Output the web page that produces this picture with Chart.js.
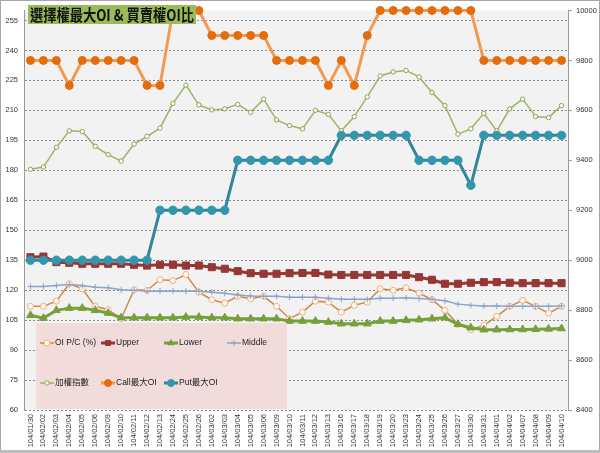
<!DOCTYPE html>
<html>
<head>
<meta charset="utf-8">
<script src="https://cdn.jsdelivr.net/npm/chart.js@4.4.1/dist/chart.umd.min.js"></script>
<style>
	html, body { margin: 0; padding: 0; background: #fff; }
	#khung { width: 600px; height: 453px; }
</style>
</head>
<body>
<div id="khung"><canvas id="bieuDo" width="600" height="453"></canvas></div>
<script>
var ngay = ['104/01/30', '104/02/02', '104/02/03', '104/02/04', '104/02/05', '104/02/06', '104/02/09', '104/02/10', '104/02/11', '104/02/12',
	'104/02/13', '104/02/24', '104/02/25', '104/02/26', '104/03/02', '104/03/03', '104/03/04', '104/03/05', '104/03/06', '104/03/09',
	'104/03/10', '104/03/11', '104/03/12', '104/03/13', '104/03/16', '104/03/17', '104/03/18', '104/03/19', '104/03/20', '104/03/23',
	'104/03/24', '104/03/25', '104/03/26', '104/03/27', '104/03/30', '104/03/31', '104/04/01', '104/04/02', '104/04/07', '104/04/08',
	'104/04/09', '104/04/10'];

// truc trai
var oiPC = [111.9, 111.9, 114.5, 123.2, 120.7, 111.9, 110.2, 105.7, 120.2, 119.9,
	125.2, 124.8, 127.8, 119, 115.2, 113.5, 116.9, 115.7, 116.9, 111.9,
	105.7, 109, 114.5, 114, 109, 112.4, 114, 120.7, 119.9, 121.2,
	118.5, 115.2, 109.9, 102.9, 100.2, 102.4, 106.9, 111.9, 114.9, 111.9,
	108.5, 111.9];
var upper = [136.5, 136.8, 134, 133.7, 133.2, 133.2, 133.2, 133.2, 132.7, 132.3,
	132.7, 132.7, 132.3, 132.3, 131.5, 130.7, 129.5, 128.5, 128.2, 128.2,
	128.5, 128.6, 128.6, 127.8, 127.6, 127.6, 127.6, 127.6, 127.6, 127.6,
	126.5, 125.2, 123.2, 123.2, 123.7, 124, 124, 123.7, 123.5, 123.5,
	123.5, 123.5];
var lower = [107.4, 106, 109.9, 111, 111, 109.9, 108.5, 106.2, 106.2, 106.2,
	106.2, 106.2, 106.5, 106.5, 106.2, 106.2, 105.7, 105.7, 105.7, 105.7,
	104.5, 104.5, 104.5, 104, 103.2, 103.2, 103.2, 104.5, 104.5, 104.9,
	105.2, 105.7, 106.2, 102.9, 101.2, 100.2, 100.2, 100.3, 100.3, 100.4,
	100.6, 100.8];
var middle = [121.8, 121.8, 122.3, 122.8, 122.3, 121.5, 121.2, 120.2, 119.9, 119.5,
	119.5, 119.5, 119.4, 119.4, 119, 118.4, 117.6, 117.1, 116.9, 116.9,
	116.5, 116.5, 116.5, 115.9, 115.4, 115.4, 115.4, 116, 116, 116.2,
	115.8, 115.4, 114.7, 113, 112.4, 112.1, 112.1, 112, 111.9, 111.9,
	112, 112.1];

// truc phai
var chiSo = [9364, 9373, 9452, 9518, 9515, 9456, 9423, 9397, 9465, 9496,
	9529, 9628, 9701, 9622, 9602, 9606, 9624, 9592, 9645, 9562,
	9539, 9526, 9600, 9584, 9518, 9575, 9654, 9738, 9754, 9760,
	9734, 9672, 9619, 9505, 9526, 9588, 9518, 9606, 9645, 9575,
	9571, 9619];
var callOI = [9800, 9800, 9800, 9700, 9800, 9800, 9800, 9800, 9800, 9700,
	9700, 10000, 10000, 10000, 9900, 9900, 9900, 9900, 9900, 9800,
	9800, 9800, 9800, 9700, 9800, 9700, 9900, 10000, 10000, 10000,
	10000, 10000, 10000, 10000, 10000, 9800, 9800, 9800, 9800, 9800,
	9800, 9800];
var putOI = [9000, 9000, 9000, 9000, 9000, 9000, 9000, 9000, 9000, 9000,
	9200, 9200, 9200, 9200, 9200, 9200, 9400, 9400, 9400, 9400,
	9400, 9400, 9400, 9400, 9500, 9500, 9500, 9500, 9500, 9500,
	9400, 9400, 9400, 9400, 9300, 9500, 9500, 9500, 9500, 9500,
	9500, 9500];

var tickTrai = [60, 75, 90, 105, 120, 135, 150, 165, 180, 195, 210, 225, 240, 255];
var tickPhai = [8400, 8600, 8800, 9000, 9200, 9400, 9600, 9800, 10000];
var tieuDe = '選擇權最大OI & 買賣權OI比';

var chuNho = { family: 'Liberation Sans', size: 7.5 };

function duLieu(nhan, data, truc, mau, doRong, kieuDiem, banKinh, nen, vien, thuTu) {
	return {
		label: nhan,
		data: data,
		yAxisID: truc,
		borderColor: mau,
		borderWidth: doRong,
		pointStyle: kieuDiem,
		pointRadius: banKinh,
		pointBackgroundColor: nen,
		pointBorderColor: vien,
		pointBorderWidth: 1,
		tension: 0,
		order: thuTu,
		clip: 6
	};
}

var dsDuLieu = [
	duLieu('OI P/C (%)', oiPC, 'yL', '#c98a4b', 1.5, 'circle', 3, '#fff7ef', '#f2b07a', 6),
	duLieu('Upper', upper, 'yL', '#953735', 3, 'rect', 5, '#953735', '#953735', 5),
	duLieu('Lower', lower, 'yL', '#77a03c', 3, 'triangle', 4.5, '#77a03c', '#77a03c', 4),
	duLieu('Middle', middle, 'yL', '#8aa4cc', 1.5, 'cross', 3, '#8aa4cc', '#8aa4cc', 3),
	duLieu('加權指數', chiSo, 'yR', '#9bb565', 1.5, 'circle', 2.2, '#ffffff', '#8aa650', 2),
	duLieu('Call最大OI', callOI, 'yR', '#f29a52', 3, 'circle', 4, '#e46c0a', '#e46c0a', 1),
	duLieu('Put最大OI', putOI, 'yR', '#31869b', 3, 'circle', 4.2, '#3396ad', '#3396ad', 0)
];

function veDiem(ctx, kieu, x, y, r, nen, vien) {
	ctx.save();
	ctx.fillStyle = nen;
	ctx.strokeStyle = vien;
	ctx.lineWidth = 1;
	ctx.beginPath();
	if (kieu == 'circle') {
		ctx.arc(x, y, r, 0, Math.PI * 2);
	}
	else if (kieu == 'rect') {
		var s = r * Math.SQRT1_2;
		ctx.rect(x - s, y - s, 2 * s, 2 * s);
	}
	else if (kieu == 'triangle') {
		ctx.moveTo(x, y - r);
		ctx.lineTo(x + r * 0.87, y + r * 0.5);
		ctx.lineTo(x - r * 0.87, y + r * 0.5);
		ctx.closePath();
	}
	else if (kieu == 'cross') {
		ctx.moveTo(x, y - r);
		ctx.lineTo(x, y + r);
		ctx.moveTo(x - r, y);
		ctx.lineTo(x + r, y);
	}
	if (kieu != 'cross') {
		ctx.fill();
	}
	ctx.stroke();
	ctx.restore();
}

var nenVe = {
	id: 'nenVe',
	beforeDraw: (chart) => {
		var ctx = chart.ctx;
		var a = chart.chartArea;
		ctx.save();
		ctx.fillStyle = '#ffffff';
		ctx.fillRect(0, 0, chart.width, chart.height);
		ctx.fillStyle = '#f2f2f2';
		ctx.fillRect(a.left, a.top, a.right - a.left, a.bottom - a.top);
		ctx.restore();
	},
	afterDraw: (chart) => {
		var ctx = chart.ctx;
		ctx.save();

		// chu thich
		ctx.fillStyle = '#f2dcdb';
		ctx.fillRect(36, 323, 251, 86);
		var viTri = [[40, 343], [101, 343], [164, 343], [227, 343], [40, 383], [101, 383], [164, 383]];
		dsDuLieu.forEach((ds, i) => {
			var x = viTri[i][0];
			var y = viTri[i][1];
			ctx.strokeStyle = ds.borderColor;
			ctx.lineWidth = ds.borderWidth;
			ctx.beginPath();
			ctx.moveTo(x, y);
			ctx.lineTo(x + 14, y);
			ctx.stroke();
			veDiem(ctx, ds.pointStyle, x + 7, y, Math.min(ds.pointRadius, 3.5), ds.pointBackgroundColor, ds.pointBorderColor);
			ctx.fillStyle = '#222';
			ctx.font = '8.5px "Liberation Sans", "Noto Sans CJK TC"';
			ctx.textBaseline = 'middle';
			ctx.textAlign = 'left';
			ctx.fillText(ds.label, x + 15, y);
		});

		// tieu de
		ctx.fillStyle = '#9bbb59';
		ctx.fillRect(28, 5, 168, 19);
		ctx.fillStyle = '#111';
		ctx.font = 'bold 16px "Noto Sans CJK TC"';
		ctx.textBaseline = 'middle';
		ctx.fillText(tieuDe, 30, 15, 164);

		// vien
		ctx.strokeStyle = '#a6a6a6';
		ctx.lineWidth = 1;
		ctx.strokeRect(0.5, 0.5, chart.width - 1, chart.height - 1);
		ctx.fillStyle = '#bdbdbd';
		ctx.fillRect(0, chart.height - 3, chart.width, 3);
		ctx.restore();
	}
};

var bieuDo = new Chart(document.getElementById('bieuDo').getContext('2d'), {
	type: 'line',
	data: {
		labels: ngay,
		datasets: dsDuLieu
	},
	options: {
		responsive: false,
		animation: false,
		layout: { padding: { top: 8, left: 0, right: 0, bottom: 0 } },
		plugins: {
			legend: { display: false },
			tooltip: { enabled: false }
		},
		scales: {
			x: {
				offset: true,
				grid: { display: false, drawTicks: false },
				border: { display: false },
				ticks: { autoSkip: false, minRotation: 90, maxRotation: 90, padding: 4, color: '#333', font: chuNho },
				afterFit: (s) => { s.height = 43; }
			},
			yL: {
				position: 'left',
				min: 60,
				max: 260,
				afterBuildTicks: (s) => { s.ticks = tickTrai.map(v => ({ value: v })); },
				grid: { color: '#8c8c8c', lineWidth: 1, drawTicks: false },
				border: { display: true, color: '#9a9a9a', width: 1, dash: [2, 2] },
				ticks: { padding: 6, color: '#333', font: chuNho, callback: (v) => String(v) },
				afterFit: (s) => { s.width = 24; }
			},
			yR: {
				position: 'right',
				min: 8400,
				max: 10000,
				afterBuildTicks: (s) => { s.ticks = tickPhai.map(v => ({ value: v })); },
				grid: { drawOnChartArea: false, drawTicks: true, tickLength: 4, color: '#9a9a9a' },
				border: { display: true, color: '#9a9a9a', width: 1 },
				ticks: { padding: 4, color: '#333', font: chuNho, callback: (v) => String(v) },
				afterFit: (s) => { s.width = 32; }
			}
		}
	},
	plugins: [nenVe]
});
</script>
</body>
</html>
